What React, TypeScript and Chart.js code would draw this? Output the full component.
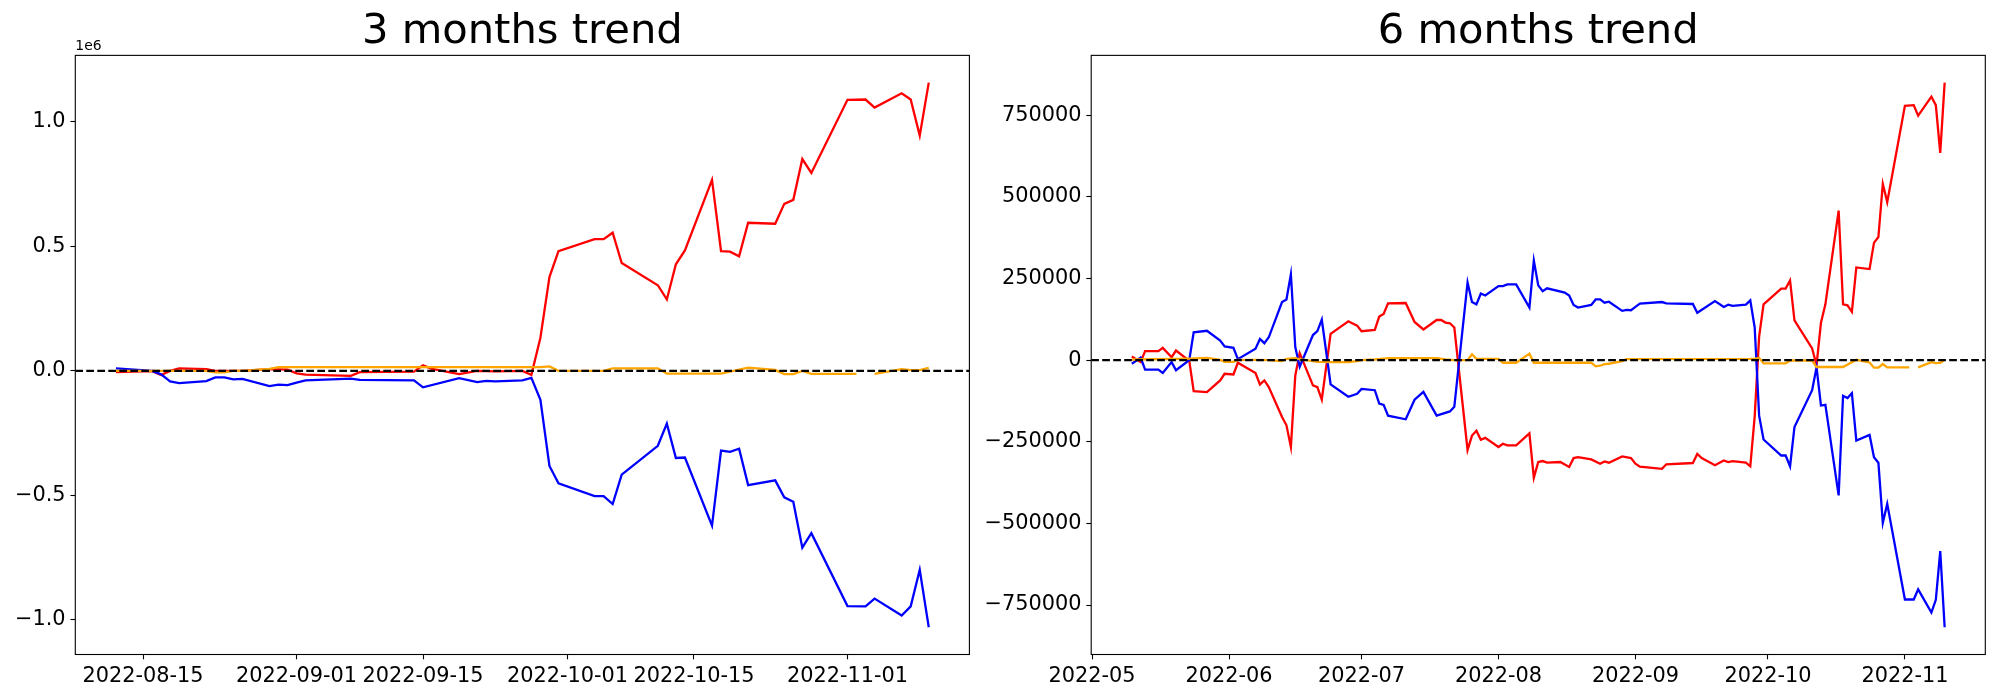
import React, { useEffect, useRef } from 'react';
import { Chart, registerables } from 'chart.js';

Chart.register(...registerables);

// ---------------- 3 months trend ----------------
const red3Dates = ['2022-08-12','2022-08-16','2022-08-17','2022-08-18','2022-08-19','2022-08-22','2022-08-23','2022-08-26','2022-08-29','2022-08-31','2022-09-01','2022-09-02','2022-09-07','2022-09-08','2022-09-14','2022-09-15','2022-09-16','2022-09-19','2022-09-21','2022-09-23','2022-09-26','2022-09-27','2022-09-28','2022-09-29','2022-09-30','2022-10-04','2022-10-05','2022-10-06','2022-10-07','2022-10-11','2022-10-12','2022-10-13','2022-10-14','2022-10-17','2022-10-18','2022-10-19','2022-10-20','2022-10-21','2022-10-24','2022-10-25','2022-10-26','2022-10-27','2022-10-28','2022-11-01','2022-11-03','2022-11-04','2022-11-07','2022-11-08','2022-11-09','2022-11-10'];
const red3Values = [-5000,-1000,-17000,0,10000,7000,0,0,7000,5000,-10000,-15000,-20000,-5000,-3000,22000,8000,-13000,0,-2000,0,-16000,133000,377000,481000,529000,529000,555000,433000,344000,287000,428000,484000,767000,481000,479000,460000,595000,591000,671000,687000,851000,795000,1089000,1090000,1058000,1115000,1090000,945000,1158000];

const blue3Dates = ['2022-08-12','2022-08-16','2022-08-17','2022-08-18','2022-08-19','2022-08-22','2022-08-23','2022-08-24','2022-08-25','2022-08-26','2022-08-29','2022-08-30','2022-08-31','2022-09-01','2022-09-02','2022-09-07','2022-09-08','2022-09-14','2022-09-15','2022-09-19','2022-09-21','2022-09-22','2022-09-23','2022-09-26','2022-09-27','2022-09-28','2022-09-29','2022-09-30','2022-10-04','2022-10-05','2022-10-06','2022-10-07','2022-10-11','2022-10-12','2022-10-13','2022-10-14','2022-10-17','2022-10-18','2022-10-19','2022-10-20','2022-10-21','2022-10-24','2022-10-25','2022-10-26','2022-10-27','2022-10-28','2022-11-01','2022-11-03','2022-11-04','2022-11-07','2022-11-08','2022-11-09','2022-11-10'];
const blue3Values = [10000,0,-14000,-42000,-49000,-41000,-26000,-26000,-34000,-32000,-61000,-55000,-57000,-47000,-38000,-31000,-36000,-38000,-66000,-29000,-45000,-40000,-42000,-38000,-28000,-116000,-382000,-452000,-503000,-503000,-535000,-417000,-301000,-212000,-350000,-348000,-622000,-320000,-325000,-313000,-459000,-440000,-508000,-526000,-710000,-652000,-945000,-946000,-915000,-983000,-946000,-799000,-1030000];

const orange3Dates = ['2022-08-12','2022-08-22','2022-08-23','2022-08-24','2022-08-25','2022-08-26','2022-08-29','2022-08-30','2022-09-28','2022-09-29','2022-09-30','2022-10-05','2022-10-06','2022-10-11','2022-10-12','2022-10-18','2022-10-21','2022-10-24','2022-10-25','2022-10-26','2022-10-27','2022-10-28','2022-11-02','2022-11-03','2022-11-04','2022-11-07','2022-11-08','2022-11-09','2022-11-10'];
const orange3Values = [0,0,-6000,-6000,0,0,8000,15000,15000,18000,0,0,10000,10000,-11000,-11000,13000,4000,-13000,-13000,0,-12000,-12000,null,-12000,7000,3000,3000,12000];

const xTicks3 = ['2022-08-15','2022-09-01','2022-09-15','2022-10-01','2022-10-15','2022-11-01'];
const yTicks3 = [-1000000,-500000,0,500000,1000000];

// ---------------- 6 months trend ----------------
const red6Dates = ['2022-05-10','2022-05-12','2022-05-13','2022-05-16','2022-05-17','2022-05-19','2022-05-20','2022-05-23','2022-05-24','2022-05-27','2022-05-30','2022-05-31','2022-06-02','2022-06-03','2022-06-07','2022-06-08','2022-06-09','2022-06-10','2022-06-13','2022-06-14','2022-06-15','2022-06-16','2022-06-17','2022-06-20','2022-06-21','2022-06-22','2022-06-24','2022-06-28','2022-06-30','2022-07-01','2022-07-04','2022-07-05','2022-07-06','2022-07-07','2022-07-11','2022-07-13','2022-07-15','2022-07-18','2022-07-19','2022-07-20','2022-07-21','2022-07-22','2022-07-25','2022-07-26','2022-07-27','2022-07-28','2022-07-29','2022-08-01','2022-08-02','2022-08-03','2022-08-05','2022-08-08','2022-08-09','2022-08-10','2022-08-11','2022-08-12','2022-08-15','2022-08-17','2022-08-18','2022-08-19','2022-08-22','2022-08-24','2022-08-25','2022-08-26','2022-08-29','2022-08-31','2022-09-01','2022-09-02','2022-09-07','2022-09-08','2022-09-14','2022-09-15','2022-09-16','2022-09-19','2022-09-21','2022-09-22','2022-09-23','2022-09-26','2022-09-27','2022-09-28','2022-09-29','2022-09-30','2022-10-04','2022-10-05','2022-10-06','2022-10-07','2022-10-11','2022-10-12','2022-10-13','2022-10-14','2022-10-17','2022-10-18','2022-10-19','2022-10-20','2022-10-21','2022-10-24','2022-10-25','2022-10-26','2022-10-27','2022-10-28','2022-11-01','2022-11-03','2022-11-04','2022-11-07','2022-11-08','2022-11-09','2022-11-10'];
const red6Values = [11000,-6000,27500,27500,37600,9000,29500,-2000,-94600,-97700,-62000,-41700,-43700,-8000,-39700,-74300,-62000,-82400,-174000,-199400,-265600,-46800,21400,-77300,-82400,-121000,80400,119000,105800,88500,92600,133300,141400,174000,175000,117000,94000,123000,123000,115000,113000,100000,-275000,-231000,-216000,-244000,-238000,-266000,-256000,-261000,-261000,-224000,-360000,-312000,-309000,-314000,-312000,-327000,-300000,-297000,-304000,-317000,-310000,-314000,-295000,-300000,-317000,-326000,-333000,-319000,-315000,-287000,-300000,-322000,-307000,-312000,-309000,-314000,-325000,-172000,72000,171000,219000,219000,244000,122000,36000,-15000,115000,171000,458000,171000,168000,148000,284000,279000,359000,377000,540000,484000,779000,781000,749000,807000,781000,635000,850000];

const blue6Dates = ['2022-05-10','2022-05-12','2022-05-13','2022-05-16','2022-05-17','2022-05-19','2022-05-20','2022-05-23','2022-05-24','2022-05-27','2022-05-30','2022-05-31','2022-06-02','2022-06-03','2022-06-07','2022-06-08','2022-06-09','2022-06-10','2022-06-13','2022-06-14','2022-06-15','2022-06-16','2022-06-17','2022-06-20','2022-06-21','2022-06-22','2022-06-24','2022-06-28','2022-06-30','2022-07-01','2022-07-04','2022-07-05','2022-07-06','2022-07-07','2022-07-11','2022-07-13','2022-07-15','2022-07-18','2022-07-21','2022-07-22','2022-07-25','2022-07-26','2022-07-27','2022-07-28','2022-07-29','2022-08-01','2022-08-02','2022-08-03','2022-08-05','2022-08-08','2022-08-09','2022-08-10','2022-08-11','2022-08-12','2022-08-16','2022-08-17','2022-08-18','2022-08-19','2022-08-22','2022-08-23','2022-08-24','2022-08-25','2022-08-26','2022-08-29','2022-08-30','2022-08-31','2022-09-01','2022-09-02','2022-09-07','2022-09-08','2022-09-14','2022-09-15','2022-09-19','2022-09-21','2022-09-22','2022-09-23','2022-09-26','2022-09-27','2022-09-28','2022-09-29','2022-09-30','2022-10-04','2022-10-05','2022-10-06','2022-10-07','2022-10-11','2022-10-12','2022-10-13','2022-10-14','2022-10-17','2022-10-18','2022-10-19','2022-10-20','2022-10-21','2022-10-24','2022-10-25','2022-10-26','2022-10-27','2022-10-28','2022-11-01','2022-11-03','2022-11-04','2022-11-07','2022-11-08','2022-11-09','2022-11-10'];
const blue6Values = [-11000,8000,-29000,-29000,-39000,-6000,-31000,0,85000,90000,60000,42000,38000,3000,35000,65000,52000,70000,178000,186000,263000,40000,-20000,77000,89000,124000,-74000,-112000,-103000,-88000,-92000,-133000,-137000,-170000,-181000,-121000,-97000,-170000,-157000,-143000,238000,178000,171000,204000,198000,227000,227000,232000,232000,161000,305000,229000,211000,220000,207000,198000,169000,161000,169000,186000,186000,176000,179000,151000,154000,153000,163000,173000,178000,174000,172000,145000,181000,163000,170000,166000,170000,183000,100000,-170000,-243000,-292000,-292000,-325000,-205000,-92000,-22000,-139000,-137000,-414000,-109000,-116000,-101000,-246000,-229000,-297000,-314000,-498000,-440000,-733000,-733000,-702000,-773000,-734000,-585000,-818000];

const orange6Dates = ['2022-05-10','2022-05-20','2022-05-23','2022-05-27','2022-05-30','2022-05-31','2022-06-02','2022-06-03','2022-06-07','2022-06-10','2022-06-13','2022-06-14','2022-06-16','2022-06-17','2022-06-20','2022-06-21','2022-06-24','2022-06-28','2022-06-30','2022-07-01','2022-07-04','2022-07-06','2022-07-07','2022-07-18','2022-07-20','2022-07-22','2022-07-25','2022-07-26','2022-07-27','2022-08-01','2022-08-02','2022-08-05','2022-08-08','2022-08-09','2022-08-12','2022-08-22','2022-08-23','2022-08-24','2022-08-25','2022-08-26','2022-08-29','2022-08-30','2022-09-27','2022-09-28','2022-09-29','2022-09-30','2022-10-05','2022-10-06','2022-10-11','2022-10-12','2022-10-18','2022-10-21','2022-10-24','2022-10-25','2022-10-26','2022-10-27','2022-10-28','2022-11-02','2022-11-03','2022-11-04','2022-11-07','2022-11-08','2022-11-09','2022-11-10'];
const orange6Values = [2000,4000,5000,7000,1000,-5000,-5000,1000,1000,0,-3000,4000,6000,3000,-3000,-5000,-6000,-6000,-3000,0,2000,5000,6000,6000,2000,0,0,18000,4000,4000,-8000,-8000,20000,-8000,-8000,-8000,-19000,-17000,-12000,-11000,-3000,3000,4000,5000,7000,-10000,-10000,-1000,-1000,-21000,-21000,1000,-7000,-23000,-23000,-12000,-22000,-22000,null,-22000,-6000,-9000,-8000,1000];

const xTicks6 = ['2022-05-01','2022-06-01','2022-07-01','2022-08-01','2022-09-01','2022-10-01','2022-11-01'];
const yTicks6 = [-750000,-500000,-250000,0,250000,500000,750000];

// ---------------- helpers ----------------
const FONT = 'DejaVu Sans';
const MINUS = '\u2212';
const LINE_W = 2.3;

const toMs = (s: string) => {
  const [y, m, d] = s.split('-').map(Number);
  return Date.UTC(y, m - 1, d);
};

type Series = { dates: string[]; values: (number | null)[]; color: string; order: number };

function buildConfig(opts: {
  title: string;
  series: Series[];
  xTicks: string[];
  xFmt: (ms: number) => string;
  yTicks: number[];
  yFmt: (v: number) => string;
  yAxisWidth: number;
  padRight: number;
  offsetText?: string;
}): any {
  const allX: number[] = [];
  const allY: number[] = [];
  opts.series.forEach((s) => {
    s.dates.forEach((d, i) => {
      allX.push(toMs(d));
      const v = s.values[i];
      if (v !== null) allY.push(v);
    });
  });
  const x0 = Math.min(...allX);
  const x1 = Math.max(...allX);
  const y0 = Math.min(...allY);
  const y1 = Math.max(...allY);
  const xm = (x1 - x0) * 0.05;
  const ym = (y1 - y0) * 0.05;
  const xmin = x0 - xm;
  const xmax = x1 + xm;

  const datasets: any[] = opts.series.map((s) => ({
    data: s.dates.map((d, i) => ({ x: toMs(d), y: s.values[i] })),
    borderColor: s.color,
    backgroundColor: s.color,
    borderWidth: LINE_W,
    pointRadius: 0,
    tension: 0,
    spanGaps: false,
    fill: false,
    order: s.order,
  }));
  datasets.push({
    data: [
      { x: xmin, y: 0 },
      { x: xmax, y: 0 },
    ],
    borderColor: '#000000',
    borderWidth: LINE_W,
    borderDash: [7.7, 3.3],
    pointRadius: 0,
    fill: false,
    order: 0,
  });

  const xTickMs = opts.xTicks.map(toMs);

  const framePlugin = {
    id: 'frame',
    afterDraw(chart: any) {
      const { ctx, chartArea: a } = chart;
      ctx.save();
      ctx.strokeStyle = '#000000';
      ctx.lineWidth = 1.1;
      ctx.strokeRect(a.left, a.top, a.right - a.left, a.bottom - a.top);
      if (opts.offsetText) {
        ctx.fillStyle = '#000000';
        ctx.font = `13.9px "${FONT}"`;
        ctx.textAlign = 'left';
        ctx.textBaseline = 'alphabetic';
        ctx.fillText(opts.offsetText, a.left, a.top - 5);
      }
      ctx.restore();
    },
  };

  const tickGrid = {
    display: true,
    drawOnChartArea: false,
    drawTicks: true,
    tickLength: 4.86,
    tickWidth: 1.1,
    tickColor: '#000000',
    color: '#000000',
  };

  return {
    type: 'line',
    data: { datasets },
    plugins: [framePlugin],
    options: {
      animation: false,
      responsive: false,
      devicePixelRatio: 1,
      events: [],
      layout: { padding: { left: 0, right: opts.padRight, top: 0, bottom: 0 } },
      plugins: {
        legend: { display: false },
        tooltip: { enabled: false },
        title: {
          display: true,
          text: opts.title,
          color: '#000000',
          fullSize: false,
          font: { family: FONT, size: 41.67, weight: 'normal', lineHeight: 1 },
          padding: { top: 11.8, bottom: 1.9 },
        },
      },
      scales: {
        x: {
          type: 'linear',
          min: xmin,
          max: xmax,
          grid: tickGrid,
          border: { display: false },
          ticks: {
            color: '#000000',
            font: { family: FONT, size: 20.83 },
            padding: 4.86,
            maxRotation: 0,
            minRotation: 0,
            autoSkip: false,
            callback: (v: any) => opts.xFmt(Number(v)),
          },
          afterBuildTicks: (scale: any) => {
            scale.ticks = xTickMs.map((v) => ({ value: v }));
          },
          afterFit: (scale: any) => {
            scale.height = 45.5;
          },
        },
        y: {
          type: 'linear',
          min: y0 - ym,
          max: y1 + ym,
          grid: tickGrid,
          border: { display: false },
          ticks: {
            color: '#000000',
            font: { family: FONT, size: 20.83 },
            padding: 4.86,
            autoSkip: false,
            callback: (v: any) => opts.yFmt(Number(v)),
          },
          afterBuildTicks: (scale: any) => {
            scale.ticks = opts.yTicks.map((v) => ({ value: v }));
          },
          afterFit: (scale: any) => {
            scale.width = opts.yAxisWidth;
          },
        },
      },
    },
  };
}

const fmtDay = (ms: number) => new Date(ms).toISOString().slice(0, 10);
const fmtMonth = (ms: number) => new Date(ms).toISOString().slice(0, 7);

function ChartCanvas({ config, left, width }: { config: () => any; left: number; width: number }) {
  const ref = useRef<HTMLCanvasElement | null>(null);
  useEffect(() => {
    if (!ref.current) return;
    const chart = new Chart(ref.current, config());
    return () => chart.destroy();
  }, []);
  return (
    <canvas
      ref={ref}
      width={width}
      height={700}
      style={{ position: 'absolute', left, top: 0, width, height: 700 }}
    />
  );
}

export default function App() {
  const cfg3 = () =>
    buildConfig({
      title: '3 months trend',
      series: [
        { dates: red3Dates, values: red3Values, color: '#ff0000', order: 3 },
        { dates: blue3Dates, values: blue3Values, color: '#0000ff', order: 2 },
        { dates: orange3Dates, values: orange3Values, color: '#ffa500', order: 1 },
      ],
      xTicks: xTicks3,
      xFmt: fmtDay,
      yTicks: yTicks3,
      yFmt: (v) => (v / 1e6).toFixed(1).replace('-', MINUS),
      yAxisWidth: 75.3,
      padRight: 10.6,
      offsetText: '1e6',
    });
  const cfg6 = () =>
    buildConfig({
      title: '6 months trend',
      series: [
        { dates: red6Dates, values: red6Values, color: '#ff0000', order: 3 },
        { dates: blue6Dates, values: blue6Values, color: '#0000ff', order: 2 },
        { dates: orange6Dates, values: orange6Values, color: '#ffa500', order: 1 },
      ],
      xTicks: xTicks6,
      xFmt: fmtMonth,
      yTicks: yTicks6,
      yFmt: (v) => String(Math.round(v)).replace('-', MINUS),
      yAxisWidth: 111.2,
      padRight: 14.7,
    });
  return (
    <div
      style={{
        position: 'absolute',
        left: 0,
        top: 0,
        width: 2000,
        height: 700,
        background: '#ffffff',
      }}
    >
      <ChartCanvas config={cfg3} left={0} width={980} />
      <ChartCanvas config={cfg6} left={980} width={1020} />
    </div>
  );
}
